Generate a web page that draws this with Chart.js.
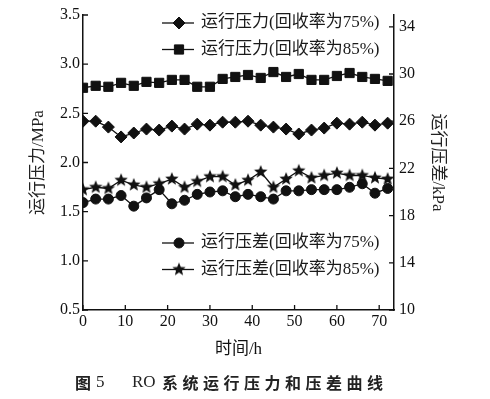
<!DOCTYPE html>
<html>
<head>
<meta charset="utf-8">
<script src="https://cdn.jsdelivr.net/npm/chart.js@4"></script>
<style>
  html, body { margin: 0; padding: 0; background: #fff; }
</style>
</head>
<body>
<canvas id="roChart" width="490" height="399"></canvas>
<script>
// 数据
const hours = [0, 3, 6, 9, 12, 15, 18, 21, 24, 27, 30, 33, 36, 39, 42, 45, 48, 51, 54, 57, 60, 63, 66, 69, 72];
const pressure75 = [2.42, 2.42, 2.36, 2.26, 2.30, 2.34, 2.33, 2.37, 2.34, 2.39, 2.38, 2.41, 2.41, 2.42, 2.38, 2.36, 2.34, 2.29, 2.33, 2.35, 2.40, 2.39, 2.41, 2.38, 2.40];
const pressure85 = [2.76, 2.78, 2.77, 2.81, 2.78, 2.82, 2.81, 2.84, 2.84, 2.77, 2.77, 2.85, 2.87, 2.89, 2.86, 2.92, 2.87, 2.90, 2.84, 2.84, 2.88, 2.91, 2.87, 2.85, 2.83];
const dp75 = [19.1, 19.4, 19.4, 19.7, 18.8, 19.5, 20.2, 19.0, 19.3, 19.8, 20.0, 20.1, 19.6, 19.8, 19.6, 19.4, 20.1, 20.1, 20.2, 20.2, 20.2, 20.4, 20.7, 19.9, 20.3];
const dp85 = [20.2, 20.4, 20.3, 21.0, 20.6, 20.4, 20.7, 21.1, 20.4, 20.9, 21.3, 21.3, 20.6, 21.0, 21.7, 20.4, 21.1, 21.8, 21.2, 21.4, 21.6, 21.4, 21.4, 21.2, 21.1];

const xTicks = [0, 10, 20, 30, 40, 50, 60, 70];
const leftTicks = [0.5, 1.0, 1.5, 2.0, 2.5, 3.0, 3.5];
const rightTicks = [10, 14, 18, 22, 26, 30, 34];

const seriesNames = ['运行压力(回收率为75%)', '运行压力(回收率为85%)', '运行压差(回收率为75%)', '运行压差(回收率为85%)'];
const caption = ['图', '5', 'RO', '系统运行压力和压差曲线'];

const serif = '"Liberation Serif", "Noto Sans CJK SC", serif';
const ink = '#111';

// 实心五角星
function makeStar(r) {
    const c = document.createElement('canvas');
    const s = Math.ceil(r * 2 + 2);
    c.width = c.height = s;
    const g = c.getContext('2d');
    g.fillStyle = ink;
    g.beginPath();
    for (let i = 0; i < 10; i++) {
        const rr = i % 2 ? r * 0.44 : r;
        const a = -Math.PI / 2 + i * Math.PI / 5;
        g.lineTo(s / 2 + rr * Math.cos(a), s / 2 + rr * Math.sin(a));
    }
    g.closePath();
    g.fill();
    return c;
}
const star = makeStar(7);

function series(label, values, axis, style, radius) {
    return {
        label: label,
        data: hours.map((h, i) => ({ x: h, y: values[i] })),
        yAxisID: axis,
        borderColor: ink,
        borderWidth: 1.3,
        backgroundColor: ink,
        pointStyle: style,
        pointRadius: radius,
        pointBorderWidth: 1,
        pointBorderColor: ink,
        pointBackgroundColor: ink,
        tension: 0
    };
}

const datasets = [
    series(seriesNames[0], pressure75, 'y', 'rectRot', 6),
    series(seriesNames[1], pressure85, 'y', 'rect', 6.5),
    series(seriesNames[3], dp85, 'y1', star, 7),
    series(seriesNames[2], dp75, 'y1', 'circle', 5)
];

// 图例、内向刻度、图题
const decor = {
    id: 'decor',
    afterDraw(chart) {
        const ctx = chart.ctx;
        const { x, y, y1 } = chart.scales;
        const area = chart.chartArea;
        ctx.save();
        ctx.strokeStyle = ink;
        ctx.lineWidth = 1.3;
        ctx.beginPath();
        xTicks.forEach(v => {
            const px = x.getPixelForValue(v);
            ctx.moveTo(px, area.bottom); ctx.lineTo(px, area.bottom - 5);
        });
        leftTicks.forEach(v => {
            const py = y.getPixelForValue(v);
            ctx.moveTo(area.left, py); ctx.lineTo(area.left + 5, py);
        });
        rightTicks.forEach(v => {
            const py = y1.getPixelForValue(v);
            ctx.moveTo(area.right, py); ctx.lineTo(area.right - 5, py);
        });
        ctx.stroke();

        // 图例
        const rows = [
            { ds: 0, y: 23 }, { ds: 1, y: 49.5 },
            { ds: 3, y: 243 }, { ds: 2, y: 269.5 }
        ];
        rows.forEach(r => {
            const d = chart.data.datasets[r.ds];
            ctx.strokeStyle = ink;
            ctx.fillStyle = ink;
            ctx.lineWidth = 1.3;
            ctx.beginPath();
            ctx.moveTo(162, r.y); ctx.lineTo(194, r.y);
            ctx.stroke();
            ctx.lineWidth = 1;
            Chart.helpers.drawPoint(ctx, { pointStyle: d.pointStyle, radius: d.pointRadius, rotation: 0, borderWidth: 1 }, 179, r.y);
            ctx.fillStyle = '#1a1a1a';
            ctx.font = '17px ' + serif;
            ctx.textBaseline = 'middle';
            ctx.textAlign = 'left';
            ctx.fillText(d.label, 201, r.y);
        });

        // 图题
        const cy = 383;
        ctx.fillStyle = '#222';
        ctx.textBaseline = 'middle';
        ctx.font = 'bold 16px "Noto Sans CJK SC"';
        ctx.fillText(caption[0], 75, cy);
        ctx.font = '17px ' + serif;
        ctx.fillText(caption[1], 96, cy);
        ctx.fillText(caption[2], 132, cy);
        ctx.font = 'bold 16px "Noto Sans CJK SC"';
        const chars = Array.from(caption[3]);
        const pitch = (383 - 162 - 16) / (chars.length - 1);
        chars.forEach((ch, i) => ctx.fillText(ch, 162 + i * pitch, cy));
        ctx.restore();
    }
};

const tickFont = { family: serif, size: 16 };
const titleFont = { family: serif, size: 17 };

new Chart(document.getElementById('roChart'), {
    type: 'line',
    data: { datasets: datasets },
    options: {
        responsive: false,
        devicePixelRatio: 1,
        animation: false,
        layout: { padding: { top: 15, left: 0, right: 0, bottom: 0 } },
        plugins: { legend: { display: false }, tooltip: { enabled: false } },
        scales: {
            x: {
                type: 'linear',
                min: 0,
                max: 73.5,
                afterBuildTicks: s => { s.ticks = xTicks.map(v => ({ value: v })); },
                afterFit: s => { s.height = 89; },
                grid: { display: false, drawTicks: false },
                border: { display: true, color: ink, width: 1.5 },
                ticks: { font: tickFont, color: ink, padding: 2, maxRotation: 0 },
                title: { display: true, text: '时间/h', font: titleFont, color: ink, padding: { top: 0, bottom: 38.8 } }
            },
            y: {
                position: 'left',
                min: 0.5,
                max: 3.5,
                afterBuildTicks: s => { s.ticks = leftTicks.map(v => ({ value: v })); },
                afterFit: s => { s.width = 83; },
                grid: { display: false, drawTicks: false },
                border: { display: true, color: ink, width: 1.5 },
                ticks: { font: tickFont, color: ink, padding: 3, callback: v => v.toFixed(1) },
                title: { display: true, text: '运行压力/MPa', font: titleFont, color: '#222', padding: { top: 28, bottom: 0 } }
            },
            y1: {
                position: 'right',
                min: 10,
                max: 35,
                afterBuildTicks: s => { s.ticks = rightTicks.map(v => ({ value: v })); },
                afterFit: s => { s.width = 96; },
                grid: { display: false, drawTicks: false },
                border: { display: true, color: ink, width: 1.5 },
                ticks: { font: tickFont, color: ink, padding: 5 },
                title: { display: true, text: '运行压差/kPa', font: titleFont, color: '#222', padding: { top: 42, bottom: 0 } }
            }
        }
    },
    plugins: [decor]
});
</script>
</body>
</html>
